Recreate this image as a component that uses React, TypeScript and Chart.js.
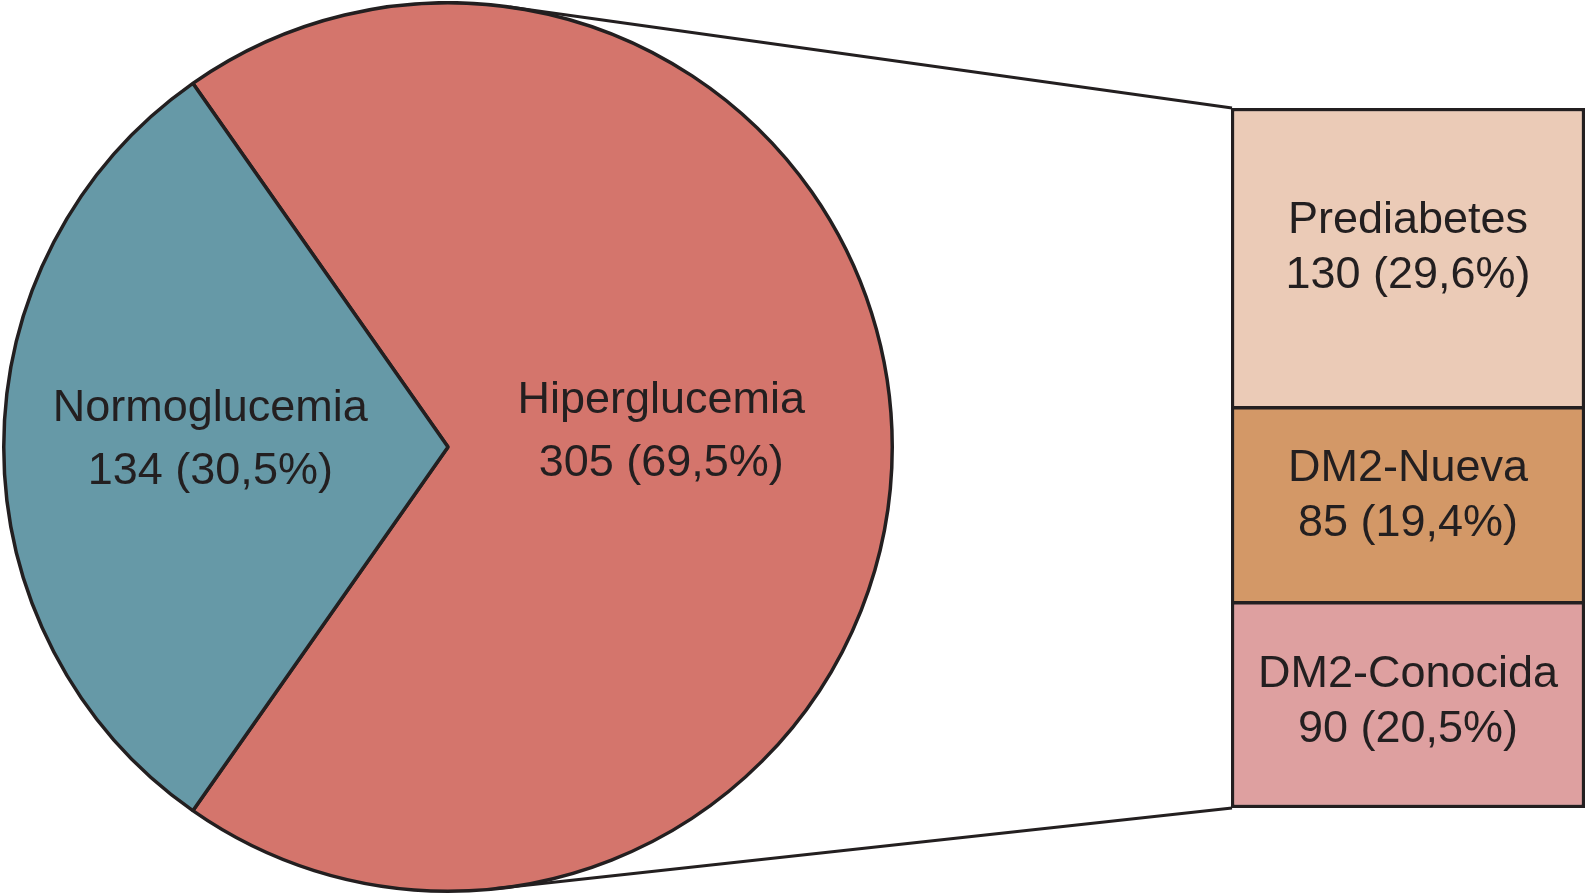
import React, { useEffect, useRef } from "react";
import { Chart, registerables } from "chart.js";

Chart.register(...registerables);

// ---- Data ----
const pieLabels = ["Hiperglucemia", "Normoglucemia"];
const pieValues = [305, 134];
const piePercents = ["69,5%", "30,5%"];
const pieColors = ["#d4756c", "#6699a7"];

const barLabels = ["Prediabetes", "DM2-Nueva", "DM2-Conocida"];
const barValues = [130, 85, 90];
const barPercents = ["29,6%", "19,4%", "20,5%"];
const barColors = ["#ebcbb7", "#d39867", "#dea0a0"];

const INK = "#231f20";
const FONT = '45px "Liberation Sans", Arial, Helvetica, sans-serif';
const LW = 3.5;

const W = 1587;
const H = 894;
const PIE_LEFT = 2;
const PIE_SIZE = 892;

export default function App() {
  const pieRef = useRef<HTMLCanvasElement | null>(null);
  const barRef = useRef<HTMLCanvasElement | null>(null);

  useEffect(() => {
    document.body.style.margin = "0";
    const pieTotal = pieValues.reduce((a, b) => a + b, 0);
    const firstFrac = pieValues[0] / pieTotal;
    const rotation = 90 - (firstFrac * 360) / 2;

    const pieTextPlugin = {
      id: "pieText",
      afterDatasetsDraw(chart: any) {
        const ctx = chart.ctx;
        const meta = chart.getDatasetMeta(0);
        const fractions = [0.48, 0.535];
        const dys = [-15, -7];
        ctx.save();
        ctx.font = FONT;
        ctx.fillStyle = INK;
        ctx.textAlign = "center";
        ctx.textBaseline = "middle";
        meta.data.forEach((arc: any, i: number) => {
          const mid = (arc.startAngle + arc.endAngle) / 2;
          const r = arc.outerRadius * fractions[i];
          const cx = arc.x + Math.cos(mid) * r;
          const cy = arc.y + Math.sin(mid) * r + dys[i];
          ctx.fillText(pieLabels[i], cx, cy - 31.5);
          ctx.fillText(`${pieValues[i]} (${piePercents[i]})`, cx, cy + 31.5);
        });
        ctx.restore();
      },
    };

    const pie = new Chart(pieRef.current as HTMLCanvasElement, {
      type: "pie",
      data: {
        labels: pieLabels,
        datasets: [
          {
            data: pieValues,
            backgroundColor: pieColors,
            borderColor: INK,
            borderWidth: LW,
          },
        ],
      },
      options: {
        responsive: false,
        animation: false,
        events: [],
        rotation,
        layout: { padding: 0 },
        plugins: { legend: { display: false }, tooltip: { enabled: false } },
      },
      plugins: [pieTextPlugin],
    } as any);

    const barTotal = barValues.reduce((a, b) => a + b, 0);
    // datasets from bottom to top
    const order = [2, 1, 0];

    const connectorPlugin = {
      id: "connector",
      beforeDatasetsDraw(chart: any) {
        const ctx = chart.ctx;
        const arc: any = pie.getDatasetMeta(0).data[0];
        const cx = arc.x + PIE_LEFT;
        const cy = arc.y + 1;
        const r = arc.outerRadius;
        const area = chart.chartArea;
        const pts = [
          { x: area.left, y: area.top, sign: -1 },
          { x: area.left, y: area.bottom, sign: 1 },
        ];
        ctx.save();
        ctx.strokeStyle = INK;
        ctx.lineWidth = 3;
        pts.forEach((p) => {
          const dx = p.x - cx;
          const dy = p.y - cy;
          const d = Math.hypot(dx, dy);
          const th = Math.atan2(dy, dx);
          const al = Math.acos(r / d);
          const a = th + p.sign * al;
          const tx = cx + Math.cos(a) * r;
          const ty = cy + Math.sin(a) * r;
          ctx.beginPath();
          ctx.moveTo(tx, ty);
          ctx.lineTo(p.x + 1, p.y);
          ctx.stroke();
        });
        ctx.restore();
      },
      afterDatasetsDraw(chart: any) {
        const ctx = chart.ctx;
        const dys = [-9, -8, -3];
        ctx.save();
        ctx.font = FONT;
        ctx.fillStyle = INK;
        ctx.textAlign = "center";
        ctx.textBaseline = "middle";
        order.forEach((idx, di) => {
          const el: any = chart.getDatasetMeta(di).data[0];
          const cx = el.x;
          const cy = (el.y + el.base) / 2 + dys[idx];
          ctx.fillText(barLabels[idx], cx, cy - 27.5);
          ctx.fillText(`${barValues[idx]} (${barPercents[idx]})`, cx, cy + 27.5);
        });
        ctx.restore();
      },
    };

    const bar = new Chart(barRef.current as HTMLCanvasElement, {
      type: "bar",
      data: {
        labels: [""],
        datasets: order.map((idx) => ({
          label: barLabels[idx],
          data: [barValues[idx]],
          backgroundColor: barColors[idx],
          borderColor: INK,
          borderWidth:
            idx === 2
              ? { top: LW, left: LW, right: LW, bottom: LW }
              : { top: LW, left: LW, right: LW, bottom: 0 },
          borderSkipped: false,
          categoryPercentage: 1,
          barPercentage: 1,
        })),
      },
      options: {
        responsive: false,
        animation: false,
        events: [],
        layout: { padding: { left: 1231, right: 2, top: 108, bottom: 86 } },
        scales: {
          x: { stacked: true, display: false },
          y: { stacked: true, display: false, min: 0, max: barTotal },
        },
        plugins: { legend: { display: false }, tooltip: { enabled: false } },
      },
      plugins: [connectorPlugin],
    } as any);

    return () => {
      bar.destroy();
      pie.destroy();
    };
  }, []);

  return (
    <div
      style={{
        position: "absolute",
        left: 0,
        top: 0,
        width: W,
        height: H,
        background: "#ffffff",
        overflow: "hidden",
      }}
    >
      <canvas
        ref={pieRef}
        width={PIE_SIZE}
        height={PIE_SIZE}
        style={{ position: "absolute", left: PIE_LEFT, top: 1, width: PIE_SIZE, height: PIE_SIZE }}
      />
      <canvas
        ref={barRef}
        width={W}
        height={H}
        style={{ position: "absolute", left: 0, top: 0, width: W, height: H, pointerEvents: "none" }}
      />
    </div>
  );
}
